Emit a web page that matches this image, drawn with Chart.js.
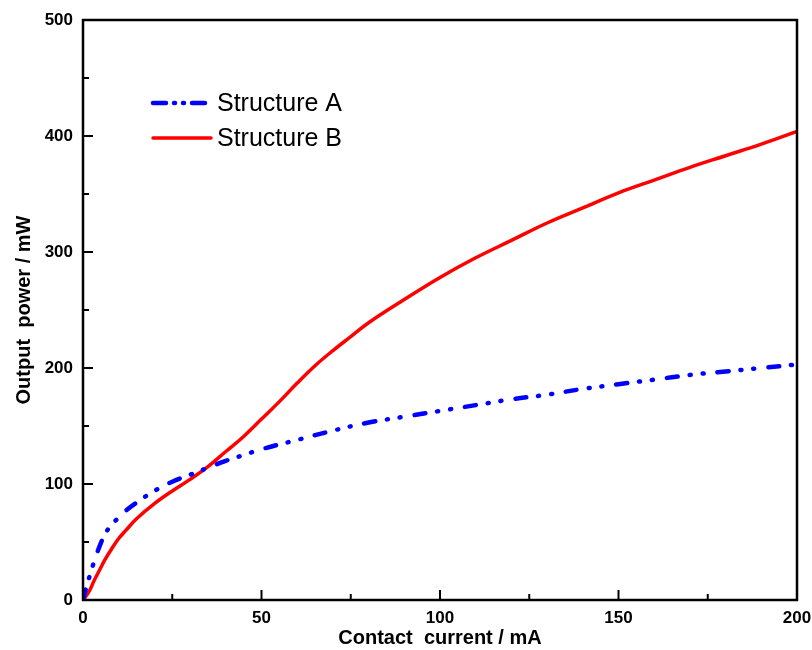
<!DOCTYPE html>
<html>
<head>
<meta charset="utf-8">
<script src="https://cdn.jsdelivr.net/npm/chart.js@4.4.0/dist/chart.umd.min.js"></script>
<style>
  html, body { margin: 0; padding: 0; background: #fff; }
  #wrap { width: 812px; height: 650px; }
</style>
</head>
<body>
<div id="wrap"><canvas id="powerChart"></canvas></div>
<script>
// Contact current (mA) and output power (mW)
var currentA = [0, 1, 2, 3, 4, 5, 6, 8, 10, 12, 15, 20, 25, 30, 35, 40, 45, 50, 60, 70, 80, 90, 100, 110, 120, 130, 140, 150, 160, 170, 180, 190, 200];
var powerA   = [0, 12, 22, 32, 41, 49, 56, 65, 71, 77, 84, 94, 102, 108, 114, 120, 125, 130, 138, 146, 153, 158, 163, 168, 173, 177, 182, 186, 190, 194, 197, 200, 203];

var currentB = [0, 1, 2, 3, 4, 5, 6, 8, 10, 12, 15, 20, 25, 30, 35, 40, 45, 50, 55, 60, 65, 70, 75, 80, 90, 100, 110, 120, 130, 140, 150, 160, 170, 180, 190, 200];
var powerB   = [0, 4, 9, 16, 22, 28, 34, 44, 53, 60, 70, 83, 94, 104, 115, 128, 141, 156, 171, 187, 202, 215, 227, 239, 259, 278, 295, 310, 325, 338, 351, 362, 373, 383, 393, 404];

var seriesNames = ["Structure A", "Structure B"];
var xTicks = [0, 50, 100, 150, 200];
var yTicks = [0, 100, 200, 300, 400, 500];

function toPoints(xs, ys) {
    return xs.map(function (x, i) { return { x: x, y: ys[i] }; });
}

var dashA = [11, 12, 1, 12, 1, 14];

// box frame + inward ticks
var framePlugin = {
    id: "frame",
    afterDraw: function (chart) {
        var ctx = chart.ctx;
        var a = chart.chartArea;
        var xs = chart.scales.x, ys = chart.scales.y;
        ctx.save();
        ctx.strokeStyle = "#000";
        ctx.lineWidth = 2.5;
        ctx.strokeRect(a.left, a.top, a.right - a.left, a.bottom - a.top);
        ctx.lineWidth = 2;
        for (var v = 0; v <= 200; v += 25) {
            var px = xs.getPixelForValue(v);
            var len = v % 50 === 0 ? 10 : 6;
            ctx.beginPath();
            ctx.moveTo(px, a.bottom);
            ctx.lineTo(px, a.bottom - len);
            ctx.stroke();
        }
        for (var w = 0; w <= 500; w += 50) {
            var py = ys.getPixelForValue(w);
            var l2 = w % 100 === 0 ? 10 : 6;
            ctx.beginPath();
            ctx.moveTo(a.left, py);
            ctx.lineTo(a.left + l2, py);
            ctx.stroke();
        }
        ctx.restore();
    }
};

// legend drawn inside plot area
var legendPlugin = {
    id: "insideLegend",
    afterDraw: function (chart) {
        var ctx = chart.ctx;
        var rows = [103, 138];
        ctx.save();
        chart.data.datasets.forEach(function (ds, i) {
            ctx.beginPath();
            ctx.strokeStyle = ds.borderColor;
            ctx.lineWidth = ds.borderWidth;
            ctx.lineCap = "round";
            ctx.setLineDash(ds.borderDash ? [13, 8, 1, 8, 1, 8] : []);
            ctx.moveTo(153, rows[i]);
            ctx.lineTo(211, rows[i]);
            ctx.stroke();
            ctx.setLineDash([]);
            ctx.fillStyle = "#000";
            ctx.font = "25px 'Liberation Sans', Arial, sans-serif";
            ctx.textBaseline = "middle";
            ctx.fillText(ds.label, 217, rows[i] + 1);
        });
        ctx.restore();
    }
};

var ctx = document.getElementById("powerChart").getContext("2d");

var chart = new Chart(ctx, {
    type: "scatter",
    data: {
        datasets: [
            {
                label: seriesNames[0],
                data: toPoints(currentA, powerA),
                showLine: true,
                borderColor: "#0000ff",
                borderWidth: 4.5,
                borderDash: dashA,
                borderCapStyle: "round",
                pointRadius: 0,
                tension: 0.4
            },
            {
                label: seriesNames[1],
                data: toPoints(currentB, powerB),
                showLine: true,
                borderColor: "#ff0000",
                borderWidth: 3.5,
                pointRadius: 0,
                tension: 0.4
            }
        ]
    },
    options: {
        responsive: true,
        maintainAspectRatio: false,
        animation: false,
        layout: { padding: { top: 20, right: 15, left: 0, bottom: 0 } },
        plugins: {
            legend: { display: false },
            tooltip: { enabled: false }
        },
        scales: {
            x: {
                type: "linear",
                min: 0,
                max: 200,
                grid: { display: false },
                border: { display: false },
                afterBuildTicks: function (s) { s.ticks = xTicks.map(function (v) { return { value: v }; }); },
                afterFit: function (s) { s.height = 50; },
                ticks: {
                    color: "#000",
                    padding: 0,
                    maxRotation: 0,
                    font: { family: "'Liberation Sans', Arial, sans-serif", size: 17, weight: "bold" }
                },
                title: {
                    display: true,
                    text: "Contact  current / mA",
                    color: "#000",
                    padding: { top: 0, bottom: 0 },
                    font: { family: "'Liberation Sans', Arial, sans-serif", size: 20, weight: "bold" }
                }
            },
            y: {
                type: "linear",
                min: 0,
                max: 500,
                grid: { display: false },
                border: { display: false },
                afterBuildTicks: function (s) { s.ticks = yTicks.map(function (v) { return { value: v }; }); },
                afterFit: function (s) { s.width = 83; },
                ticks: {
                    color: "#000",
                    padding: 2,
                    font: { family: "'Liberation Sans', Arial, sans-serif", size: 17, weight: "bold" }
                },
                title: {
                    display: true,
                    text: "Output  power / mW",
                    color: "#000",
                    padding: { top: 12, bottom: 0 },
                    font: { family: "'Liberation Sans', Arial, sans-serif", size: 20, weight: "bold" }
                }
            }
        }
    },
    plugins: [framePlugin, legendPlugin]
});
</script>
</body>
</html>
